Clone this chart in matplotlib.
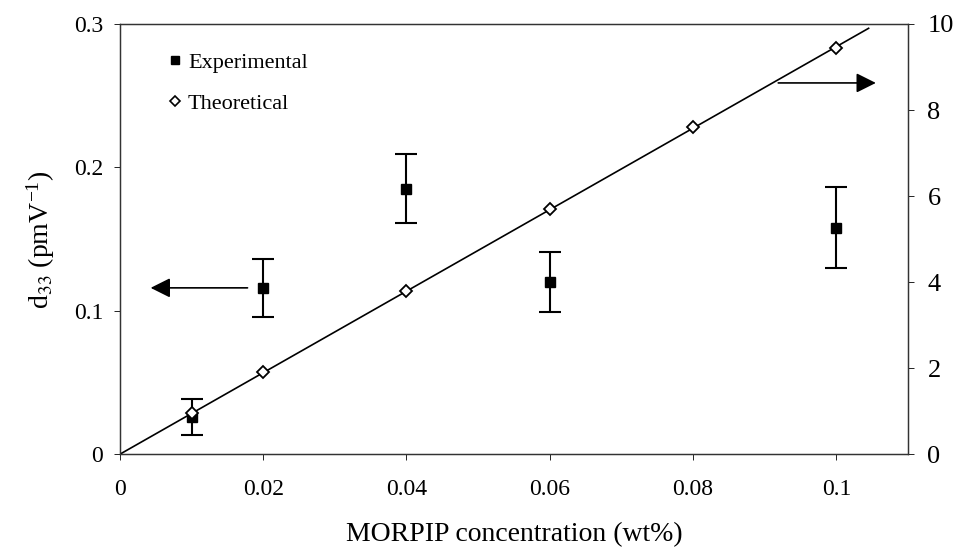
import numpy as np
import matplotlib.pyplot as plt
from matplotlib.lines import Line2D

plt.rcParams['font.family'] = ['Liberation Serif', 'DejaVu Serif']
plt.rcParams['mathtext.fontset'] = 'stix'

# experimental d33 (left axis)
exp_x = [0.01, 0.02, 0.04, 0.06, 0.10]
exp_y = [0.026, 0.116, 0.185, 0.120, 0.158]
exp_err = [0.0125, 0.020, 0.024, 0.021, 0.028]

# theoretical values (right axis)
th_x = [0.01, 0.02, 0.04, 0.06, 0.08, 0.10]
th_y = [0.95, 1.9, 3.8, 5.7, 7.6, 9.45]

# fitted line (right axis)
fit_x = [0.0, 0.1045]
fit_y = [0.0, 9.9]

x_ticks = [0, 0.02, 0.04, 0.06, 0.08, 0.1]
x_ticklabels = ['0', '0.02', '0.04', '0.06', '0.08', '0.1']
yl_ticks = [0, 0.1, 0.2, 0.3]
yl_ticklabels = ['0', '0.1', '0.2', '0.3']
yr_ticks = [0, 2, 4, 6, 8, 10]

fig = plt.figure(figsize=(9.67, 5.58), dpi=100)
ax = fig.add_axes([0.124, 0.186, 0.815, 0.771])
ax2 = ax.twinx()

ax.errorbar(exp_x, exp_y, yerr=exp_err, fmt='s', color='black', ms=7,
            ecolor='black', elinewidth=1.5, capsize=8, capthick=1.5, zorder=3)
ax2.plot(fit_x, fit_y, color='black', lw=1.2)
ax2.plot(th_x, th_y, 'D', mfc='white', mec='black', mew=1.3, ms=6.5)

ax.set_xlim(0, 0.11)
ax.set_ylim(0, 0.3)
ax2.set_ylim(0, 10)

ax.set_xticks(x_ticks)
ax.set_xticklabels(x_ticklabels)
ax.set_yticks(yl_ticks)
ax.set_yticklabels(yl_ticklabels)
ax2.set_yticks(yr_ticks)

ax.tick_params(axis='x', labelsize=17, length=4, width=0.6, direction='out', pad=14)
ax.tick_params(axis='y', labelsize=17, length=4, width=0.6, direction='out', pad=8)
ax2.tick_params(axis='y', labelsize=19, length=4, width=0.6, direction='out', pad=10)

for a in (ax, ax2):
    for s in a.spines.values():
        s.set_linewidth(0.9)
        s.set_color('#333333')

ax.set_xlabel('MORPIP concentration (wt%)', fontsize=20, labelpad=16)
ax.set_ylabel(r'd$_{33}$ (pmV$^{\mathregular{-1}}$)', fontsize=20, labelpad=12)

# arrows pointing to the relevant axes
ax.annotate('', xy=(0.0039, 0.116), xytext=(0.0182, 0.116),
            arrowprops=dict(arrowstyle='-|>', color='black', lw=1.2,
                            mutation_scale=30))
ax2.annotate('', xy=(0.1059, 8.63), xytext=(0.0915, 8.63),
             arrowprops=dict(arrowstyle='-|>', color='black', lw=1.2,
                             mutation_scale=30))

handles = [
    Line2D([], [], ls='none', marker='s', color='black', ms=6),
    Line2D([], [], ls='none', marker='D', mfc='white', mec='black', mew=1.2, ms=5),
]
ax.legend(handles, ['Experimental', 'Theoretical'], loc='upper left',
          bbox_to_anchor=(0.03, 0.98), frameon=False, fontsize=16,
          handletextpad=0.1, handlelength=1.0, labelspacing=0.9)

fig.savefig('out.png', dpi=100)
